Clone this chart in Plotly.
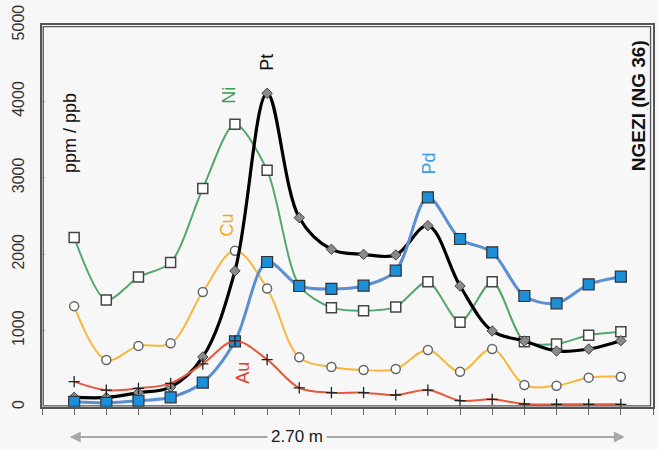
import plotly.graph_objects as go

# sample index along the 2.70 m section
positions = list(range(18))

ni = [2220, 1400, 1700, 1890, 2860, 3700, 3100, 1590, 1300, 1260, 1310, 1640, 1110, 1640, 855, 825, 940, 985]
cu = [1320, 615, 800, 833, 1505, 2046, 1550, 650, 524, 484, 497, 746, 462, 759, 288, 279, 384, 397]
pt = [127, 125, 187, 260, 655, 1782, 4106, 2478, 2064, 1998, 1990, 2374, 1584, 995, 864, 733, 759, 868]
pd_ = [68, 55, 82, 127, 320, 860, 1898, 1584, 1545, 1588, 1784, 2745, 2199, 2025, 1453, 1357, 1606, 1706]
au = [332, 220, 245, 310, 565, 865, 620, 250, 188, 188, 157, 222, 83, 100, 39, 35, 35, 35]

y_ticks = [0, 1000, 2000, 3000, 4000, 5000]
x_ticks = list(range(-1, 19))

BG = "#f7f7f7"
FONT = "Liberation Sans, Arial, sans-serif"

fig = go.Figure()

fig.add_trace(go.Scatter(
    x=positions, y=cu, mode="lines+markers", name="Cu",
    line=dict(color="#f6b73c", width=2, shape="spline", smoothing=1.0),
    marker=dict(symbol="circle", size=9, color="white", line=dict(color="#666666", width=1.5)),
))
fig.add_trace(go.Scatter(
    x=positions, y=ni, mode="lines+markers", name="Ni",
    line=dict(color="#55a86c", width=2, shape="spline", smoothing=0.8),
    marker=dict(symbol="square", size=10, color="white", line=dict(color="#444444", width=1.5)),
))
fig.add_trace(go.Scatter(
    x=positions, y=pt, mode="lines+markers", name="Pt",
    line=dict(color="#000000", width=3.2, shape="spline", smoothing=1.0),
    marker=dict(symbol="diamond", size=8, color="#8a8a8a", line=dict(color="#444444", width=1)),
))
fig.add_trace(go.Scatter(
    x=positions, y=pd_, mode="lines+markers", name="Pd",
    line=dict(color="#5b8fd2", width=3, shape="spline", smoothing=0.9),
    marker=dict(symbol="square", size=11, color="#1b8fd8", line=dict(color="#333333", width=1.2)),
))
fig.add_trace(go.Scatter(
    x=positions, y=au, mode="lines+markers", name="Au",
    line=dict(color="#e8573c", width=2, shape="spline", smoothing=1.0),
    marker=dict(symbol="cross-thin", size=8, color="#222222", line=dict(color="#222222", width=1.3)),
))

labels = [
    ("ppm / ppb", -0.13, 3586, "#111111", False, 18),
    ("Ni", 4.81, 4084, "#3f9e55", False, 18),
    ("Pt", 5.99, 4516, "#111111", False, 18),
    ("Cu", 4.74, 2382, "#f5a623", False, 18),
    ("Au", 5.24, 445, "#e23b2b", False, 18),
    ("Pd", 11.02, 3181, "#3d9ee0", False, 18),
    ("NGEZI (NG 36)", 17.57, 3940, "#111111", True, 19),
]
for txt, x, y, col, bold, fs in labels:
    fig.add_annotation(
        x=x, y=y, xref="x", yref="y", text=f"<b>{txt}</b>" if bold else txt,
        showarrow=False, textangle=-90, xanchor="center", yanchor="middle",
        font=dict(family=FONT, size=fs, color=col),
    )

# scale arrow below the axis
arrow_y = -0.0785
fig.add_shape(type="line", xref="x", yref="paper", x0=-0.1, x1=17.0, y0=arrow_y, y1=arrow_y,
              line=dict(color="#a8a8a8", width=1.8))
fig.add_annotation(x=-0.13, y=arrow_y, xref="x", yref="paper", text="", showarrow=True,
                   ax=25, ay=0, arrowhead=2, arrowsize=1.2, arrowwidth=1.8, arrowcolor="#a8a8a8")
fig.add_annotation(x=17.12, y=arrow_y, xref="x", yref="paper", text="", showarrow=True,
                   ax=-25, ay=0, arrowhead=2, arrowsize=1.2, arrowwidth=1.8, arrowcolor="#a8a8a8")
fig.add_annotation(x=6.92, y=arrow_y, xref="x", yref="paper", text="2.70 m", showarrow=False,
                   xanchor="center", yanchor="middle", bgcolor=BG, borderpad=3,
                   font=dict(family=FONT, size=17, color="#1a1a1a"))

# thin frame slightly inside the plot edges
fig.add_shape(type="rect", xref="paper", yref="paper", x0=0.002, x1=0.996, y0=0.003, y1=0.996,
              line=dict(color="#555555", width=1.3), fillcolor="rgba(0,0,0,0)", layer="above")

fig.update_layout(
    width=658, height=450,
    margin=dict(l=42, r=5, t=25, b=43, autoexpand=False),
    paper_bgcolor=BG, plot_bgcolor=BG,
    showlegend=False,
    font=dict(family=FONT, color="#333333"),
)
fig.update_xaxes(
    range=[-1, 18], tickvals=x_ticks, showticklabels=False,
    ticks="outside", ticklen=6, tickwidth=1, tickcolor="#666666",
    showgrid=False, zeroline=False, automargin=False,
    showline=True, mirror=True, linecolor="#555555", linewidth=2,
)
fig.update_yaxes(
    range=[0, 5000], tickvals=y_ticks, ticktext=[str(v) for v in y_ticks],
    tickangle=-90, tickfont=dict(family=FONT, size=16, color="#333333"),
    ticks="inside", ticklen=4, tickcolor="#cccccc",
    ticklabelstandoff=10, automargin=False,
    showgrid=False, zeroline=False,
    showline=True, mirror=True, linecolor="#555555", linewidth=2,
)

fig.write_html(
    "out.html",
    config={"displayModeBar": False},
    post_script="document.body.style.margin='0';document.body.style.background='%s';" % BG,
)
